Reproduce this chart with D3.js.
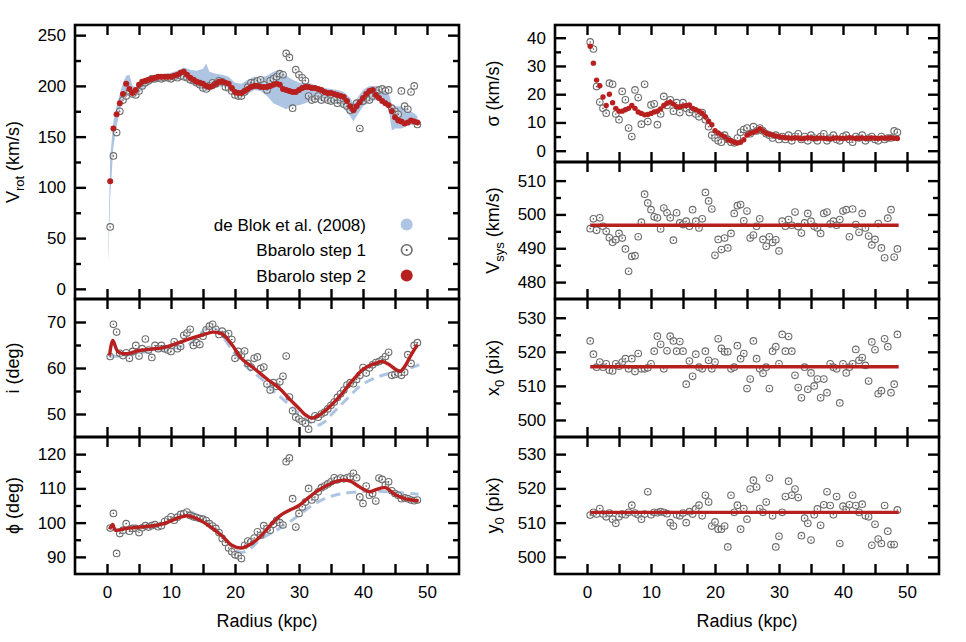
<!DOCTYPE html>
<html>
<head>
<meta charset="utf-8">
<script src="https://cdn.jsdelivr.net/npm/d3@7"></script>
<style>
  body { margin: 0; background: #fff; }
  svg text { font-family: "Liberation Sans", Arial, Helvetica, sans-serif; fill: #000; }
</style>
</head>
<body>
<svg id="chart" width="966" height="642"></svg>
<script>
// ring radii (kpc) of the Bbarolo points
const radii = [
  0.5, 1, 1.5, 2, 2.5, 3, 3.5, 4, 4.5, 5,
  5.5, 6, 6.5, 7, 7.5, 8, 8.5, 9, 9.5, 10,
  10.5, 11, 11.5, 12, 12.5, 13, 13.5, 14, 14.5, 15,
  15.5, 16, 16.5, 17, 17.5, 18, 18.5, 19, 19.5, 20,
  20.5, 21, 21.5, 22, 22.5, 23, 23.5, 24, 24.5, 25,
  25.5, 26, 26.5, 27, 27.5, 28, 28.5, 29, 29.5, 30,
  30.5, 31, 31.5, 32, 32.5, 33, 33.5, 34, 34.5, 35,
  35.5, 36, 36.5, 37, 37.5, 38, 38.5, 39, 39.5, 40,
  40.5, 41, 41.5, 42, 42.5, 43, 43.5, 44, 44.5, 45,
  45.5, 46, 46.5, 47, 47.5, 48, 48.5
];

// rotation velocity (km/s)
const vrotStep1 = [
  61, 131, 154, 175, 186, 190, 194, 192, 191, 195,
  200, 203, 205, 207, 207, 208, 207, 208, 208, 207,
  209, 208, 210, 209, 208, 206, 205, 203, 201, 198,
  197, 200, 203, 202, 205, 204, 199, 198, 195, 191,
  190, 190, 194, 199, 203, 203, 205, 206, 201, 196,
  205, 207, 209, 212, 211, 232, 228, 178, 216, 211,
  208, 205, 190, 186, 187, 190, 186, 188, 186, 185,
  186, 183, 186, 182, 180, 176, 178, 183, 158, 185,
  188, 186, 190, 193, 196, 197, 195, 196, 178, 175,
  172, 195, 180, 177, 194, 200, 162
];
const vrotStep2 = [
  106, 158, 172, 183, 192, 202, 197, 193, 196, 201,
  204, 205, 206, 207, 208, 209, 209, 209, 209, 209,
  210, 211, 213, 214, 211, 208, 206, 204, 203, 202,
  200, 199, 200, 202, 204, 204, 203, 202, 198, 194,
  193, 193, 195, 197, 199, 200, 200, 199, 199, 199,
  200, 201, 202, 201, 197, 196, 195, 194, 194, 196,
  198, 199, 199, 198, 198, 197, 196, 194, 193, 193,
  192, 191, 190, 189, 185, 180, 176, 180, 184, 188,
  192, 195, 196, 191, 188, 185, 183, 181, 175, 169,
  166, 165, 163, 164, 166, 165, 164
];

// de Blok et al. (2008) rotation curve envelope
const blokRadii = [
  0.2, 0.5, 1, 1.5, 2, 2.5, 3, 3.5, 4, 4.5,
  5, 6, 7, 8, 9, 10, 11, 12, 13, 14,
  15, 15.5, 16, 17, 18, 19, 20, 21, 22, 23,
  24, 25, 26, 27, 28, 29, 30, 31, 32, 33,
  34, 35, 36, 37, 38, 38.5, 39, 40, 41, 42,
  43, 44, 44.5, 45, 46, 47, 48, 48.5
];
const blokVrotLow = [
  25, 90, 140, 160, 175, 188, 196, 195, 192, 191,
  193, 199, 203, 204, 205, 205, 206, 207, 203, 200,
  196, 195, 195, 198, 200, 198, 188, 188, 192, 196,
  195, 190, 183, 180, 177, 180, 181, 183, 186, 186,
  185, 184, 182, 178, 170, 165, 170, 180, 184, 186,
  184, 178, 156, 158, 158, 161, 162, 162
];
const blokVrotHigh = [
  40, 130, 165, 180, 192, 203, 210, 211, 200, 199,
  202, 207, 210, 211, 212, 213, 215, 218, 216, 215,
  217, 222, 214, 212, 211, 209, 203, 202, 206, 209,
  208, 210, 214, 216, 210, 206, 203, 203, 202, 199,
  198, 197, 196, 194, 188, 183, 187, 196, 200, 200,
  197, 193, 182, 180, 180, 176, 173, 170
];

// velocity dispersion (km/s)
const sigmaStep1 = [
  38.5, 36, 22.7, 17.2, 15, 13.3, 23.9, 23.5, 13, 11,
  21, 18, 8, 5, 21.5, 18.8, 9.4, 23.5, 10.3, 16.2,
  16.6, 9.2, 13, 19.2, 16, 18, 14, 17, 13.5, 17,
  15, 13.5, 14.5, 13, 12, 13.5, 11, 8.5, 5.5, 4.5,
  3.5, 3, 5.5, 4, 3, 2.8, 4.5, 6.5, 7.5, 8,
  6, 8.5, 7, 8, 7, 6, 5.5, 4.5, 5.5, 4,
  5, 4, 5.5, 3.5, 5, 6, 4, 5, 3.5, 5.5,
  4.5, 3.5, 5, 6, 3.5, 4.5, 5.5, 4, 3.5, 5,
  5.5, 4, 3, 5, 4.5, 5.5, 3.5, 4.5, 5, 4,
  3.5, 5, 4, 4.5, 4.5, 7, 6.5
];
const sigmaStep2 = [
  37, 31, 25, 23, 19, 16, 20, 17, 15, 14,
  14, 14.5, 15, 16, 15, 13.7, 13.2, 12.7, 12.8, 13.2,
  13.7, 14, 14.8, 16, 16.8, 17.2, 16.5, 15.6, 15.5, 15.8,
  16, 16.2, 15, 14.5, 14, 13.3, 12, 10.4, 9.2, 7.1,
  6.3, 5.6, 5, 3.9, 3.5, 3, 2.7, 3, 3.9, 5.5,
  6.2, 6.5, 7, 7.8, 7, 6.2, 5.8, 5.6, 5.2, 5,
  4.8, 4.6, 4.5, 4.4, 4.6, 4.5, 4.2, 4.4, 4.6, 4.5,
  4.3, 4.4, 4.5, 4.4, 4.3, 4.2, 4.4, 4.5, 4.4, 4.3,
  4.4, 4.6, 4.5, 4.3, 4.4, 4.5, 4.3, 4.4, 4.5, 4.4,
  4.3, 4.5, 4.4, 4.5, 4.6, 4.4, 4.3
];

// systemic velocity (km/s)
const vsysStep1 = [
  495.8, 498.7, 495.3, 499, 496.5, 495, 493.1, 491.8, 492.5, 494.4,
  493, 489.8, 483.2, 487.6, 487.8, 493.4, 497.7, 506, 503.4, 501.4,
  499.3, 499, 495.7, 501.9, 500.5, 499, 492.4, 500.5, 497.5, 497,
  498, 496.5, 501.4, 498, 496, 498.7, 506.5, 504, 501.6, 487.9,
  492.6, 489.6, 493, 490.1, 494.4, 500.3, 502.6, 502.9, 498.1, 501,
  493, 493.9, 496.5, 498.7, 492.6, 490.6, 493.4, 491.7, 492.5, 489.2,
  498, 496.5, 498.5, 496.8, 500.7, 496.4, 494.5, 497.5, 500.3, 498,
  496.5, 496, 494.4, 500.3, 500.7, 497.2, 498, 496.8, 498.5, 501,
  501.4, 493.4, 501.6, 497, 494.7, 500.3, 496, 493.6, 491, 492.6,
  497.3, 490.1, 487.2, 498.9, 501.4, 487.4, 489.8
];
const vsysStep2 = 496.8;

// kinematic centre (pix)
const xcStep1 = [
  523.2, 519.3, 515.5, 517, 515.5, 516.5, 514.6, 514.4, 516.5, 515.8,
  517, 518, 515, 518, 514.2, 519.5, 515, 515, 515.3, 516.5,
  520.2, 524.6, 522.2, 515, 520.3, 524.6, 523.2, 520.2, 523, 520.2,
  510.5, 517.3, 512.8, 519.3, 515.5, 515, 520.2, 517.5, 515, 517,
  523.8, 521, 520, 520, 515, 515.5, 521.8, 518, 519.5, 509.2,
  512, 523.2, 518, 515, 513.7, 515.5, 509.2, 520.2, 521.5, 516.5,
  525.1, 520.2, 524.5, 520.2, 513.1, 509.5, 506.5, 515.5, 509, 513.8,
  510, 512, 506.5, 512, 508, 516.5, 515.5, 515, 505, 516.5,
  513.8, 515.5, 516.5, 520.7, 517.5, 518.3, 516, 511.4, 522.9, 520.6,
  507.7, 508.6, 523.8, 521.5, 508, 510.5, 525.1
];
const xcStep2 = 515.6;
const ycStep1 = [
  512.2, 513, 512.5, 514.1, 512.5, 511.7, 512.8, 511, 509.8, 511.7,
  512.5, 512.3, 513, 515.1, 512.8, 512.3, 511, 512.5, 519, 512.3,
  513, 512.9, 513.2, 513, 512.6, 510, 509, 512.3, 512, 512.8,
  510, 513.2, 512.5, 514, 515.1, 512, 518, 516, 509, 510.2,
  508.1, 508.1, 509, 502.9, 518, 513, 515.1, 508.1, 514.1, 511,
  519.8, 522.4, 520.4, 514.1, 513, 516, 523, 512, 502.9, 506,
  513, 517.6, 522.1, 518, 519.8, 517.3, 506.2, 511.3, 509.8, 504.9,
  512.3, 514, 509.2, 515.2, 519, 515, 512.3, 517.6, 503.9, 514.8,
  513.8, 515.2, 518, 515, 513, 515.4, 512, 511.7, 503.4, 509.5,
  505.2, 503.9, 515, 507.5, 503.6, 503.6, 513.7
];
const ycStep2 = 513.0;
const fitRange = [0.5, 48.7];

// inclination (deg)
const incStep1 = [
  62.5, 69.5, 67.8, 63.2, 62.7, 63.3, 62.1, 63.6, 64.9, 62.6,
  64.2, 66.3, 63.9, 62.3, 64.9, 64.2, 64.9, 64.2, 63.9, 63.6,
  65.7, 64.2, 64.7, 67.1, 67.6, 68.4, 64.9, 65.5, 65.1, 66.9,
  68.3, 69.1, 69.5, 68.4, 67.3, 68, 67.2, 67.5, 66.2, 62.1,
  63.6, 62.8, 63.7, 61, 60.2, 62.1, 62.4, 59.9, 60.2, 56.5,
  55.2, 56.8, 56, 57, 58.2, 62.6, 53.7, 50.7, 49.3, 48.9,
  48.4, 48, 46.7, 48.8, 49.6, 49.3, 50, 50.4, 51.1, 51.9,
  52.6, 53.6, 54.4, 55.2, 56.3, 56.8, 56.6, 57.5, 58.4, 60.1,
  58.9, 60, 60.7, 61.2, 61.4, 61.8, 62.5, 63.4, 58.4, 58.6,
  58.9, 58.4, 59.1, 62.9, 61, 64.9, 65.5
];
const incFitRadii = [0.4, 0.9, 1.7, 3, 5, 7, 9, 11, 13, 15, 16.5, 18, 19.5, 21, 23, 25, 27, 28.5, 30, 31,
  32, 33, 34, 35, 36, 37, 38, 39, 40, 41, 42, 43, 44, 45, 45.8, 46.5, 47.5, 48.5];
const incStep2 = [62.7, 66, 63.6, 63.1, 63.8, 64.1, 64.5, 65.4, 66.4, 67.2, 67.8, 67.4, 65.1, 62.1, 59.9, 57.6, 55.5, 53.3, 51.2, 49.8,
  49.1, 49.6, 50.6, 51.9, 53.3, 54.9, 56.7, 58.3, 59.7, 60.5, 61, 61.4, 60.8, 59.8, 59.3, 60.3, 62.8, 65.1];
const incBlokRadii = [0.4, 2, 4, 6, 8, 10, 12, 13, 14, 15, 16, 17, 18, 19, 20, 22, 24, 26, 28, 30,
  32, 33, 34, 35, 36, 37, 38, 39, 40, 42, 44, 46, 48, 48.8];
const incBlok = [62.5, 62.6, 63, 63.5, 63.8, 64.2, 64.8, 65.3, 66.5, 68, 69, 68.5, 67, 65, 63, 60, 57.8, 55, 52.6, 50,
  48, 47.6, 48.3, 49.8, 51.2, 52.6, 54, 55.4, 56.5, 57.9, 58.8, 59.4, 60.3, 60.7];

// position angle (deg)
const paStep1 = [
  98.4, 102.7, 91, 96.8, 97.8, 99.7, 97.5, 98.3, 98.3, 97.1,
  98.5, 99.1, 98.7, 99.1, 99.4, 98.8, 99.1, 100.3, 100.9, 101.7,
  100.7, 101.6, 102.4, 102.6, 103.1, 102.1, 101.7, 101.5, 101.2, 101,
  100.6, 99.7, 99, 98.3, 97.1, 95.4, 94.2, 92.6, 91.5, 90.6,
  90.3, 89.5, 93.4, 94.6, 94.4, 95.5, 97.3, 96.3, 99.1, 98.2,
  97.8, 99.5, 100.7, 100, 99.3, 117.8, 118.9, 107, 98.7, 102.7,
  104.6, 106, 110, 106.6, 107.5, 109, 110.2, 110.7, 111.3, 111.9,
  113.1, 112.5, 113, 112.8, 113.1, 113.4, 114.4, 113.1, 107.5, 105.6,
  110.7, 108, 108.5, 106.3, 113, 112.6, 111, 111.9, 109.3, 108.5,
  108, 107, 107.2, 107, 106.6, 106.4, 106.6
];
const paFitRadii = [0.4, 0.9, 1.3, 3, 5, 7, 9, 11, 12.5, 14, 16, 18, 19.5, 21, 22.5, 24, 25.5, 27, 28.5, 30,
  31.5, 33, 34.5, 36, 37, 38, 39, 40, 41, 42, 43.5, 45, 46.5, 48, 48.7];
const paStep2 = [98.1, 99.5, 97.8, 98.3, 98.7, 99, 99.8, 101.3, 102, 101.2, 99, 96.1, 93.4, 92.6, 93.8, 96, 99.2, 102, 103.6, 105,
  107.3, 109.4, 111, 112.1, 112.4, 112.1, 111, 109.8, 109, 109.6, 110.2, 108.2, 107, 106.5, 106.3];
const paBlokRadii = [0.4, 2, 4, 6, 8, 10, 12, 13, 14, 16, 18, 19.5, 21, 22.5, 24, 26, 28, 30, 32, 34,
  36, 38, 40, 42, 44, 46, 48, 48.7];
const paBlok = [98.3, 98, 98.5, 98.7, 99.2, 100.6, 102.5, 103, 102.3, 99.8, 96.2, 92.8, 91.3, 92.6, 95.2, 97.3, 99.5, 102.2, 105, 107,
  108.2, 108.8, 109.1, 109.2, 109, 108.7, 108.4, 108.3];

const legendLabels = ['de Blok et al. (2008)', 'Bbarolo step 1', 'Bbarolo step 2'];
const xTicks = [0, 5, 10, 15, 20, 25, 30, 35, 40, 45, 50];

const red = '#b8201f';
const blue = '#adc4e2';
const ringColor = '#6e6e6e';
const panelW = 384;

const svg = d3.select('#chart');

const makePanel = ({ left, top, height, domain, major, minor, label, bottom }) => {
  const x = d3.scaleLinear().domain([-5, 55]).range([0, panelW]);
  const y = d3.scaleLinear().domain(domain).range([height, 0]);
  const g = svg.append('g').attr('transform', `translate(${left},${top})`);
  const marks = g.append('g').attr('class', 'marks');
  const axes = g.append('g').attr('class', 'axes');

  axes.append('g')
    .call(d3.axisLeft(y).tickValues(major).tickSizeInner(-11).tickSizeOuter(0).tickPadding(9));
  axes.append('g')
    .call(d3.axisLeft(y).tickValues(minor).tickSizeInner(-6).tickSizeOuter(0).tickFormat(''));
  axes.append('g').attr('transform', `translate(${panelW},0)`)
    .call(d3.axisRight(y).tickValues(major).tickSizeInner(-11).tickSizeOuter(0).tickFormat(''));
  axes.append('g').attr('transform', `translate(${panelW},0)`)
    .call(d3.axisRight(y).tickValues(minor).tickSizeInner(-6).tickSizeOuter(0).tickFormat(''));
  axes.append('g')
    .call(d3.axisTop(x).tickValues(xTicks).tickSizeInner(-10).tickSizeOuter(0).tickFormat(''));
  axes.append('g').attr('transform', `translate(0,${height})`)
    .call(d3.axisBottom(x).tickValues(xTicks).tickSizeInner(-10).tickSizeOuter(0).tickPadding(12)
      .tickFormat(d => (bottom && d % 10 === 0) ? d : ''));

  axes.selectAll('.domain').remove();
  axes.selectAll('.tick line').attr('stroke', '#000').attr('stroke-width', 2.4);
  axes.selectAll('.tick text')
    .attr('font-size', 17)
    .attr('font-family', '"Liberation Sans", Arial, Helvetica, sans-serif')
    .attr('fill', '#000');

  g.append('rect')
    .attr('width', panelW).attr('height', height)
    .attr('fill', 'none').attr('stroke', '#000').attr('stroke-width', 2.6);

  // y label, parts with a flag for subscripts
  const t = svg.append('text')
    .attr('transform', `translate(${left - 56},${top + height / 2}) rotate(-90)`)
    .attr('text-anchor', 'middle')
    .attr('font-size', 18);
  let shifted = false;
  label.forEach(([txt, sub]) => {
    const s = t.append('tspan').text(txt);
    if (sub && !shifted) { s.attr('dy', 5).attr('font-size', 13); shifted = true; }
    else if (!sub && shifted) { s.attr('dy', -5); shifted = false; }
  });

  if (bottom) {
    svg.append('text')
      .attr('x', left + panelW / 2).attr('y', top + height + 53)
      .attr('text-anchor', 'middle').attr('font-size', 18)
      .text('Radius (kpc)');
  }
  return { g: marks, x, y };
};

const drawRings = (p, values) => {
  const pts = radii.map((r, i) => [r, values[i]]);
  p.g.append('g').selectAll('circle').data(pts).join('circle')
    .attr('cx', d => p.x(d[0])).attr('cy', d => p.y(d[1])).attr('r', 3.3)
    .attr('fill', '#fff').attr('fill-opacity', 0.35)
    .attr('stroke', ringColor).attr('stroke-width', 1.1);
  p.g.append('g').selectAll('circle').data(pts).join('circle')
    .attr('cx', d => p.x(d[0])).attr('cy', d => p.y(d[1])).attr('r', 0.8)
    .attr('fill', '#555');
};

const drawDots = (p, values, r) => {
  p.g.append('g').selectAll('circle').data(radii.map((rr, i) => [rr, values[i]])).join('circle')
    .attr('cx', d => p.x(d[0])).attr('cy', d => p.y(d[1])).attr('r', r)
    .attr('fill', red);
};

const drawFlat = (p, value) => {
  p.g.append('path')
    .datum(fitRange.map(r => [r, value]))
    .attr('d', d3.line().x(d => p.x(d[0])).y(d => p.y(d[1])))
    .attr('fill', 'none').attr('stroke', red).attr('stroke-width', 3.4);
};

const drawCurve = (p, rs, vs, color, dashed) => {
  p.g.append('path')
    .datum(rs.map((r, i) => [r, vs[i]]))
    .attr('d', d3.line().x(d => p.x(d[0])).y(d => p.y(d[1])).curve(d3.curveCatmullRom.alpha(0.5)))
    .attr('fill', 'none').attr('stroke', color)
    .attr('stroke-width', dashed ? 3 : 3.4)
    .attr('stroke-dasharray', dashed ? '10,6' : null);
};

// ---- left column ----
const pRot = makePanel({
  left: 75, top: 25, height: 274, domain: [-10, 260],
  major: [0, 50, 100, 150, 200, 250], minor: [25, 75, 125, 175, 225],
  label: [['V'], ['rot', true], [' (km/s)']]
});
pRot.g.append('path')
  .datum(blokRadii.map((r, i) => [r, blokVrotLow[i], blokVrotHigh[i]]))
  .attr('d', d3.area().x(d => pRot.x(d[0])).y0(d => pRot.y(d[1])).y1(d => pRot.y(d[2])))
  .attr('fill', blue);
drawRings(pRot, vrotStep1);
drawDots(pRot, vrotStep2, 3.0);

// legend
const leg = pRot.g.append('g');
legendLabels.forEach((txt, i) => {
  const cy = 199.5 + i * 25.5;
  leg.append('text').attr('x', 291).attr('y', cy + 6).attr('text-anchor', 'end')
    .attr('font-size', 17).text(txt);
  if (i === 0) leg.append('circle').attr('cx', 331.7).attr('cy', cy).attr('r', 6).attr('fill', blue);
  if (i === 1) {
    leg.append('circle').attr('cx', 331.7).attr('cy', cy).attr('r', 5.3)
      .attr('fill', '#fff').attr('stroke', ringColor).attr('stroke-width', 1.6);
    leg.append('circle').attr('cx', 331.7).attr('cy', cy).attr('r', 1).attr('fill', '#444');
  }
  if (i === 2) leg.append('circle').attr('cx', 331.7).attr('cy', cy).attr('r', 6).attr('fill', red);
});

const pInc = makePanel({
  left: 75, top: 299, height: 138, domain: [45, 75],
  major: [50, 60, 70], minor: [55, 65],
  label: [['i (deg)']]
});
drawCurve(pInc, incBlokRadii, incBlok, blue, true);
drawRings(pInc, incStep1);
drawCurve(pInc, incFitRadii, incStep2, red, false);

const pPa = makePanel({
  left: 75, top: 437, height: 137, domain: [85, 125],
  major: [90, 100, 110, 120], minor: [95, 105, 115],
  label: [['ϕ (deg)']], bottom: true
});
drawCurve(pPa, paBlokRadii, paBlok, blue, true);
drawRings(pPa, paStep1);
drawCurve(pPa, paFitRadii, paStep2, red, false);

// ---- right column ----
const pSig = makePanel({
  left: 555, top: 25, height: 137, domain: [-4, 44.5],
  major: [0, 10, 20, 30, 40], minor: [5, 15, 25, 35],
  label: [['σ (km/s)']]
});
drawRings(pSig, sigmaStep1);
drawDots(pSig, sigmaStep2, 2.7);

const pSys = makePanel({
  left: 555, top: 162, height: 137, domain: [475, 515.5],
  major: [480, 490, 500, 510], minor: [485, 495, 505],
  label: [['V'], ['sys', true], [' (km/s)']]
});
drawRings(pSys, vsysStep1);
drawFlat(pSys, vsysStep2);

const pXc = makePanel({
  left: 555, top: 299, height: 138, domain: [495, 535.5],
  major: [500, 510, 520, 530], minor: [505, 515, 525],
  label: [['x'], ['0', true], [' (pix)']]
});
drawRings(pXc, xcStep1);
drawFlat(pXc, xcStep2);

const pYc = makePanel({
  left: 555, top: 437, height: 137, domain: [495, 535],
  major: [500, 510, 520, 530], minor: [505, 515, 525],
  label: [['y'], ['0', true], [' (pix)']], bottom: true
});
drawRings(pYc, ycStep1);
drawFlat(pYc, ycStep2);
</script>
</body>
</html>
